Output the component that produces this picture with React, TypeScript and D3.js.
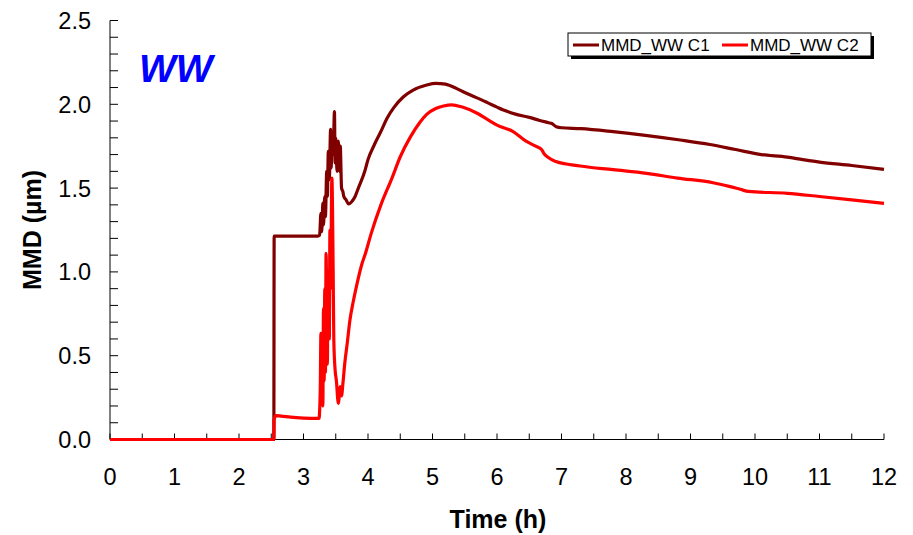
import React from "react";
import * as d3 from "d3";

const xTicks = [0, 1, 2, 3, 4, 5, 6, 7, 8, 9, 10, 11, 12];
const yTicks = [0, 0.5, 1.0, 1.5, 2.0, 2.5];
const seriesNames = ["MMD_WW C1", "MMD_WW C2"];
const seriesColors = ["#800000", "#ff0000"];

const c1Time = [0, 2.54, 2.545, 3.22, 3.25, 3.27, 3.28, 3.29, 3.3, 3.31, 3.33, 3.34, 3.36, 3.37, 3.385, 3.4, 3.42, 3.43, 3.44, 3.46, 3.48, 3.49, 3.5, 3.52, 3.54, 3.56, 3.57, 3.59, 3.61, 3.625, 3.66, 3.7, 3.75, 3.8, 3.85, 3.95, 4.0, 4.1, 4.19, 4.3, 4.4, 4.55, 4.7, 4.91, 5.05, 5.2, 5.37, 5.5, 5.68, 5.85, 6.0, 6.1, 6.3, 6.5, 6.65, 6.8, 6.85, 6.92, 7.0, 7.3, 7.8, 8.3, 8.84, 9.3, 9.7, 10.1, 10.5, 10.74, 11.0, 11.5, 12];
const c1Value = [0, 0, 1.214, 1.214, 1.22, 1.35, 1.24, 1.3, 1.41, 1.28, 1.45, 1.33, 1.6, 1.45, 1.72, 1.55, 1.85, 1.62, 1.8, 1.7, 1.956, 1.65, 1.8, 1.6, 1.78, 1.6, 1.75, 1.5, 1.48, 1.45, 1.43, 1.405, 1.42, 1.45, 1.5, 1.6, 1.67, 1.76, 1.83, 1.92, 1.98, 2.045, 2.085, 2.115, 2.125, 2.12, 2.095, 2.07, 2.04, 2.01, 1.983, 1.966, 1.94, 1.922, 1.905, 1.89, 1.885, 1.866, 1.86, 1.855, 1.837, 1.815, 1.787, 1.76, 1.73, 1.7, 1.685, 1.67, 1.655, 1.635, 1.612];

const c2Time = [0, 2.54, 2.545, 2.57, 2.65, 2.8, 3.0, 3.24, 3.26, 3.27, 3.28, 3.29, 3.3, 3.31, 3.32, 3.33, 3.34, 3.35, 3.37, 3.38, 3.4, 3.41, 3.42, 3.44, 3.46, 3.47, 3.49, 3.51, 3.54, 3.57, 3.59, 3.61, 3.64, 3.68, 3.72, 3.77, 3.82, 3.9, 3.96, 4.05, 4.2, 4.37, 4.5, 4.66, 4.8, 4.91, 5.05, 5.17, 5.3, 5.45, 5.7, 5.85, 6.0, 6.25, 6.45, 6.6, 6.69, 6.74, 6.79, 6.9, 7.29, 7.8, 8.32, 8.8, 9.35, 9.6, 9.77, 9.9, 10.5, 11.0, 11.5, 12];
const c2Value = [0, 0, 0.12, 0.142, 0.14, 0.133, 0.128, 0.126, 0.3, 0.634, 0.25, 0.55, 0.2, 0.783, 0.35, 0.9, 0.4, 1.11, 0.45, 1.0, 0.6, 1.25, 0.9, 1.56, 1.0, 0.594, 0.415, 0.35, 0.216, 0.315, 0.26, 0.33, 0.455, 0.58, 0.713, 0.82, 0.912, 1.04, 1.11, 1.23, 1.4, 1.558, 1.687, 1.807, 1.89, 1.94, 1.975, 1.99, 1.997, 1.985, 1.945, 1.91, 1.876, 1.837, 1.78, 1.75, 1.73, 1.7, 1.684, 1.66, 1.632, 1.61, 1.588, 1.56, 1.532, 1.51, 1.493, 1.48, 1.469, 1.45, 1.43, 1.409];

const W = 913;
const H = 535;
const left = 110;
const right = 884;
const top = 20.5;
const bottom = 439.5;

export default function App() {
  const x = d3.scaleLinear().domain([0, 12]).range([left, right]);
  const y = d3.scaleLinear().domain([0, 2.5]).range([bottom, top]);
  const xMinor = d3.range(0, 12.01, 0.5);
  const yMinor = d3.range(0, 2.501, 0.1);
  const line = d3
    .line<[number, number]>()
    .x((d) => x(d[0]))
    .y((d) => y(d[1]))
    .curve(d3.curveMonotoneX);
  const s1 = c1Time.map((t, i) => [t, c1Value[i]] as [number, number]);
  const s2 = c2Time.map((t, i) => [t, c2Value[i]] as [number, number]);
  const font = "'Liberation Sans', Arial, sans-serif";
  const lx = 568;
  const ly = 33;
  return (
    <svg
      width={W}
      height={H}
      style={{ position: "absolute", left: 0, top: 0, background: "#fff" }}
      fontFamily={font}
    >
      <rect x={0} y={0} width={W} height={H} fill="#fff" />
      {/* axes */}
      <line x1={left} x2={left} y1={top} y2={bottom} stroke="#000" strokeWidth={1} />
      <line x1={left} x2={right} y1={bottom} y2={bottom} stroke="#000" strokeWidth={1} />
      {yMinor.map((v, i) => (
        <line key={"ym" + i} x1={left} x2={left + 8} y1={y(v)} y2={y(v)} stroke="#000" strokeWidth={1} />
      ))}
      {xMinor.map((v, i) => (
        <line key={"xm" + i} x1={x(v)} x2={x(v)} y1={bottom} y2={bottom - 6} stroke="#000" strokeWidth={1} />
      ))}
      {yTicks.map((v) => (
        <text key={"yt" + v} x={91} y={y(v) + 8.5} textAnchor="end" fontSize={23.5} fill="#000">
          {v.toFixed(1)}
        </text>
      ))}
      {xTicks.map((v) => (
        <text key={"xt" + v} x={x(v)} y={485} textAnchor="middle" fontSize={23.5} fill="#000">
          {v}
        </text>
      ))}
      <text x={498} y={528} textAnchor="middle" fontSize={25} fontWeight="bold" fill="#000">
        Time (h)
      </text>
      <text
        transform={`translate(41, ${230}) rotate(-90)`}
        textAnchor="middle"
        fontSize={25}
        fontWeight="bold"
        fill="#000"
      >
        MMD (µm)
      </text>
      <text x={139} y={82} fontSize={39} fontWeight="bold" fontStyle="italic" fill="#0000ff">
        WW
      </text>
      {/* data */}
      <path d={line(s1) || ""} fill="none" stroke={seriesColors[0]} strokeWidth={3.2} strokeLinejoin="round" />
      <path d={line(s2) || ""} fill="none" stroke={seriesColors[1]} strokeWidth={3.2} strokeLinejoin="round" />
      {/* legend */}
      <rect x={lx + 3} y={ly + 3} width={303} height={23} fill="#000" />
      <rect x={lx} y={ly} width={303} height={23} fill="#fff" stroke="#000" strokeWidth={1} />
      <line x1={573} x2={599} y1={ly + 12} y2={ly + 12} stroke={seriesColors[0]} strokeWidth={3} />
      <text x={601} y={ly + 18} fontSize={17} fill="#000">
        {seriesNames[0]}
      </text>
      <line x1={722} x2={748} y1={ly + 12} y2={ly + 12} stroke={seriesColors[1]} strokeWidth={3} />
      <text x={750} y={ly + 18} fontSize={17} fill="#000">
        {seriesNames[1]}
      </text>
    </svg>
  );
}
